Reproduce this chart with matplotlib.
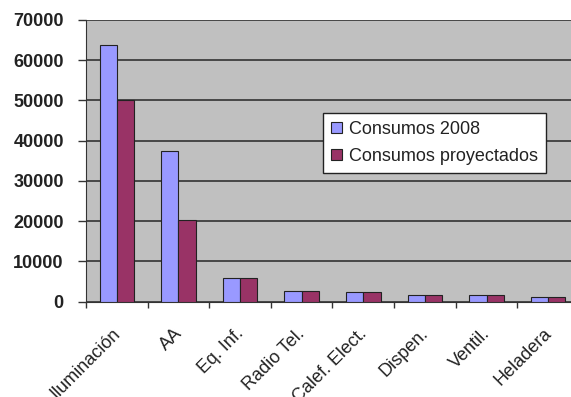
import numpy as np
import matplotlib
matplotlib.use("Agg")
import matplotlib.pyplot as plt
import matplotlib.transforms as mtransforms
from matplotlib.ticker import MultipleLocator

plt.rcParams['font.family'] = ['Liberation Sans', 'DejaVu Sans']

categorias = ["Iluminación", "AA", "Eq. Inf.", "Radio Tel.", "Calef. Elect.",
              "Dispen.", "Ventil.", "Heladera"]
consumos_2008 = [63700, 37500, 5800, 2650, 2300, 1650, 1650, 1200]
consumos_proyectados = [50000, 20300, 5800, 2650, 2300, 1650, 1650, 1200]

fig = plt.figure(figsize=(5.71, 3.97), dpi=100)
ax = fig.add_axes([86 / 571, 95.5 / 397, 493 / 571, 281.5 / 397])
ax.set_facecolor("#C0C0C0")

x = np.arange(len(categorias))
w = 0.28
ax.bar(x - w / 2, consumos_2008, w, color="#9999FF", edgecolor="#222222",
       linewidth=0.8, label="Consumos 2008", zorder=3)
ax.bar(x + w / 2, consumos_proyectados, w, color="#993366", edgecolor="#222222",
       linewidth=0.8, label="Consumos proyectados", zorder=3)

ax.set_xlim(-0.5, len(categorias) - 0.5)
ax.set_ylim(0, 70000)
ax.yaxis.set_major_locator(MultipleLocator(10000))
ax.yaxis.grid(True, color="#333333", linewidth=1.2, zorder=1)

for s in ["top", "right"]:
    ax.spines[s].set_visible(False)
ax.spines["left"].set_color("#333333")
ax.spines["bottom"].set_color("#333333")

ax.tick_params(axis="y", direction="out", length=6, width=1, color="#333333", pad=10,
               labelsize=13)
for t in ax.get_yticklabels():
    t.set_fontweight("bold")
    t.set_color("#222222")

# ticks on the x axis sit between the categories
ax.set_xticks(np.arange(len(categorias) + 1) - 0.5)
ax.set_xticklabels([])
ax.tick_params(axis="x", which="major", direction="out", length=4, width=1, color="#333333")
ax.set_xticks(x, minor=True)
ax.set_xticklabels(categorias, minor=True, rotation=45, ha="right", va="top",
                   rotation_mode="anchor", fontsize=13, color="#222222")
ax.tick_params(axis="x", which="minor", length=0, pad=17)
shift = mtransforms.ScaledTranslation(-5 / 100, 0, fig.dpi_scale_trans)
for t in ax.get_xticklabels(minor=True):
    t.set_transform(t.get_transform() + shift)

leg = ax.legend(loc="upper left", bbox_to_anchor=((323 - 86) / 493, (301.5 - 113) / 281.5),
                fontsize=13, frameon=True, fancybox=False, handlelength=0.6,
                handleheight=0.6, handletextpad=0.4, borderpad=0.45, labelspacing=0.55,
                borderaxespad=0)
leg.get_frame().set_edgecolor("#222222")
leg.get_frame().set_linewidth(1)
leg.get_frame().set_facecolor("white")
leg.get_frame().set_alpha(1)
for t in leg.get_texts():
    t.set_color("#222222")

fig.savefig("out.png", dpi=100)
